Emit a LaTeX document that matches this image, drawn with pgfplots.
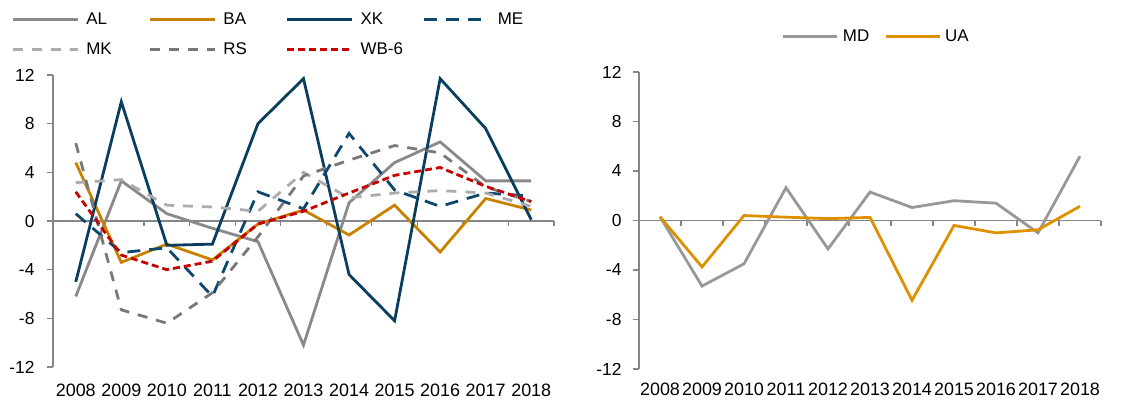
\documentclass[border=0pt]{standalone}
\usepackage{pgfplots}
\pgfplotsset{compat=1.18}
\usepackage{fontspec}
\setmainfont{Liberation Sans}
\definecolor{axisgray}{RGB}{134,134,134}
\definecolor{cAL}{RGB}{137,137,137}
\definecolor{cBA}{RGB}{200,130,0}
\definecolor{cXK}{RGB}{10,62,94}
\definecolor{cME}{RGB}{14,72,108}
\definecolor{cMK}{RGB}{172,172,172}
\definecolor{cRS}{RGB}{120,120,120}
\definecolor{cWB}{RGB}{200,0,0}
\definecolor{cMD}{RGB}{152,152,152}
\definecolor{cUA}{RGB}{222,145,0}
\pgfplotsset{
  base/.style={
    scale only axis,
    axis y line=left,
    axis x line=middle,
    xmin=-0.5, xmax=10.5, ymin=-12, ymax=12,
    xtick={0,...,10},
    xticklabels={2008,2009,2010,2011,2012,2013,2014,2015,2016,2017,2018},
    minor xtick={-0.5,0.5,...,10.5},
    ytick={-12,-8,-4,0,4,8,12},
    yticklabels={-12,-8,-4,0,4,8,12},
    hide obscured x ticks=false,
    hide obscured y ticks=false,
    axis line style={draw=axisgray, line width=1.3bp, -},
    tick style={draw=axisgray, line width=1.3bp},
    major x tick style={draw=none},
    tick align=outside,
    major tick length=6bp,
    minor tick length=5bp,
    /pgf/number format/assume math mode=true,
    x tick label style={font=\fontsize{18}{18}\selectfont, yshift=-153bp},
    legend style={draw=none, fill=none, font=\fontsize{17}{17}\selectfont,
      row sep=13bp},
    legend cell align=left,
  },
  lw/.style={line width=2.8bp},
}
\begin{document}
\begin{tikzpicture}[x=1bp,y=1bp]
\useasboundingbox (0,0) rectangle (1137,402);
\begin{axis}[base, at={(53bp,35bp)}, anchor=south west, width=501bp, height=292bp,
  y tick label style={font=\fontsize{17.5}{17.5}\selectfont, xshift=-9bp},
  legend columns=4,
  legend image code/.code={\draw[#1, line width=3.2bp] (0bp,0bp) -- (65bp,0bp);},
  legend style={at={(-0.09,1.228)}, anchor=north west,
    /tikz/every even column/.append style={column sep=20bp}}]
\addplot[cAL, lw] coordinates {(0,-6.2) (1,3.3) (2,0.6) (3,-0.6) (4,-1.7) (5,-10.2) (6,1.5) (7,4.8) (8,6.5) (9,3.3) (10,3.3)};
\addlegendentry{\hspace{5bp}\makebox[40bp][l]{AL}}
\addplot[cBA, lw] coordinates {(0,4.8) (1,-3.4) (2,-1.9) (3,-3.2) (4,-0.25) (5,0.9) (6,-1.15) (7,1.3) (8,-2.55) (9,1.85) (10,0.9)};
\addlegendentry{\hspace{5bp}\makebox[40bp][l]{BA}}
\addplot[cXK, lw] coordinates {(0,-5.0) (1,9.8) (2,-2.0) (3,-1.9) (4,8.0) (5,11.7) (6,-4.4) (7,-8.2) (8,11.7) (9,7.6) (10,0.1)};
\addlegendentry{\hspace{5bp}\makebox[40bp][l]{XK}}
\addplot[cME, lw, dash pattern=on 13bp off 9bp] coordinates {(0,0.6) (1,-2.6) (2,-2.2) (3,-6.2) (4,2.4) (5,1.0) (6,7.2) (7,2.55) (8,1.2) (9,2.3) (10,2.05)};
\addlegendentry{\hspace{5bp}\makebox[40bp][l]{ME}}
\addplot[cMK, lw, dash pattern=on 10bp off 9bp] coordinates {(0,3.15) (1,3.4) (2,1.3) (3,1.15) (4,0.8) (5,4.0) (6,1.9) (7,2.3) (8,2.5) (9,2.3) (10,1.2)};
\addlegendentry{\hspace{5bp}\makebox[40bp][l]{MK}}
\addplot[cRS, lw, dash pattern=on 10bp off 9bp] coordinates {(0,6.4) (1,-7.3) (2,-8.4) (3,-5.9) (4,-1.3) (5,3.7) (6,5.0) (7,6.2) (8,5.6) (9,2.8) (10,1.6)};
\addlegendentry{\hspace{5bp}\makebox[40bp][l]{RS}}
\addplot[cWB, lw, dash pattern=on 7bp off 4bp] coordinates {(0,2.4) (1,-2.8) (2,-4.0) (3,-3.3) (4,-0.25) (5,0.8) (6,2.3) (7,3.75) (8,4.4) (9,2.85) (10,1.6)};
\addlegendentry{\hspace{5bp}\makebox[40bp][l]{WB-6}}
\end{axis}
\begin{axis}[base, at={(639bp,33bp)}, anchor=south west, width=462bp, height=297bp,
  y tick label style={font=\fontsize{17.5}{17.5}\selectfont, xshift=-8bp},
  legend columns=2,
  legend image code/.code={\draw[#1, line width=3.2bp] (0bp,0bp) -- (54bp,0bp);},
  legend style={at={(0.302,1.155)}, anchor=north west,
    /tikz/every even column/.append style={column sep=13bp}}]
\addplot[cMD, lw] coordinates {(0,0.3) (1,-5.3) (2,-3.5) (3,2.65) (4,-2.3) (5,2.3) (6,1.05) (7,1.6) (8,1.4) (9,-1.0) (10,5.2)};
\addlegendentry{\hspace{2bp}\makebox[26bp][l]{MD}}
\addplot[cUA, lw] coordinates {(0,0.3) (1,-3.75) (2,0.4) (3,0.27) (4,0.15) (5,0.25) (6,-6.45) (7,-0.4) (8,-1.0) (9,-0.75) (10,1.15)};
\addlegendentry{\hspace{2bp}\makebox[26bp][l]{UA}}
\end{axis}
\end{tikzpicture}
\end{document}
